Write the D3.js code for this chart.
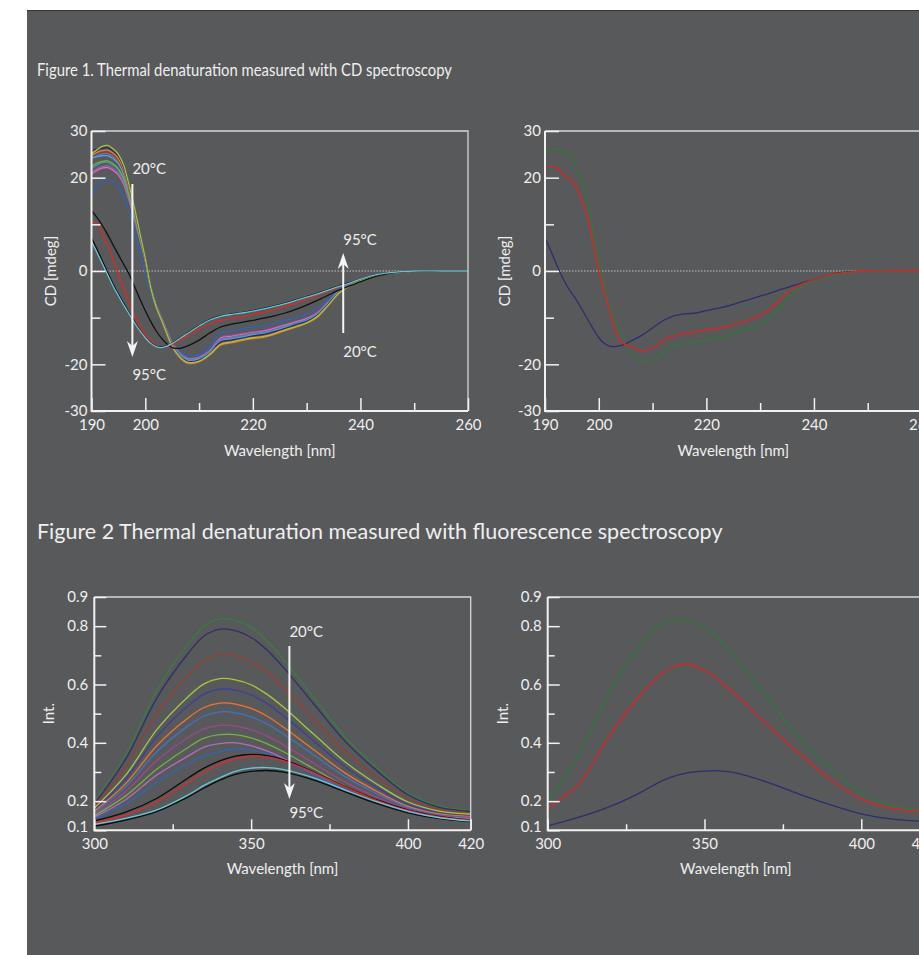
<!DOCTYPE html>
<html><head><meta charset="utf-8">
<script src="https://cdn.jsdelivr.net/npm/d3@7"></script>
<style>
html,body{margin:0;padding:0;background:#fff;}
svg{display:block;}
text{font-family:Lato,"Open Sans",sans-serif;}
</style></head><body>
<svg id="chart" width="919" height="955"></svg>
<script>
// ---------- Figure 1: CD spectra ----------
const cdWavelength = [190,191,192,193,194,195,196,197,198,199,200,201,202,203,204,205,206,207,208,210,212,214,216,218,220,222,224,226,228,230,232,234,236,238,240,243,246,250,255,260];
const cdYTicksMajor = [30,20,0,-20,-30];
const cdYTicksMinor = [10,-10];
const cdXTicksMajor = [190,200,220,240,260];
const cdXTicksMinor = [210,230,250];

const cdNative1 = [25.0,26.0,26.7,26.9,26.2,25.0,22.6,18.3,13.5,8.1,2.7,-3.5,-7.6,-10.4,-13.3,-16.1,-17.8,-19.0,-19.6,-19.3,-17.8,-15.7,-15.2,-14.7,-14.3,-14.0,-13.4,-12.6,-11.9,-11.1,-9.7,-7.3,-4.7,-3.2,-2.1,-1.0,-0.4,0,0,0];
const cdNative2 = [25.8,26.1,26.3,26.4,25.7,24.6,22.2,18.0,13.2,7.9,2.6,-3.5,-7.6,-10.3,-13.2,-15.9,-17.7,-18.8,-19.4,-19.1,-17.7,-15.2,-14.8,-14.4,-13.9,-13.6,-13.0,-12.3,-11.5,-10.8,-9.5,-7.1,-4.6,-3.1,-2.1,-0.9,-0.4,0,0,0];
const cdNative3 = [24.7,25.4,25.8,25.9,25.3,24.1,21.8,17.6,13.0,7.8,2.6,-3.6,-7.7,-10.5,-13.5,-16.2,-18.0,-19.2,-19.8,-19.5,-18.0,-15.9,-15.4,-14.9,-14.5,-14.2,-13.6,-12.8,-12.0,-11.2,-9.9,-7.4,-4.8,-3.2,-2.2,-1.0,-0.4,0,0,0];
const cdNative4 = [25.4,25.5,25.5,25.5,24.9,23.7,21.4,17.3,12.8,7.7,2.6,-3.5,-7.6,-10.3,-13.3,-16.0,-17.7,-18.9,-19.5,-19.2,-17.7,-15.5,-15.0,-14.6,-14.1,-13.8,-13.2,-12.5,-11.7,-11.0,-9.6,-7.2,-4.7,-3.2,-2.1,-1.0,-0.4,0,0,0];
const cdNative5 = [24.3,24.5,24.7,24.7,24.1,23.0,20.7,16.8,12.4,7.4,2.5,-3.5,-7.5,-10.2,-13.1,-15.7,-17.5,-18.6,-19.2,-18.9,-17.5,-15.0,-14.6,-14.2,-13.7,-13.4,-12.8,-12.1,-11.4,-10.7,-9.3,-7.0,-4.5,-3.1,-2.0,-0.9,-0.4,0,0,0];
const cdNative6 = [22.4,23.1,23.5,23.6,23.0,21.9,19.8,16.0,11.8,7.1,2.4,-3.5,-7.5,-10.2,-13.1,-15.8,-17.6,-18.7,-19.3,-19.0,-17.6,-15.1,-14.7,-14.3,-13.8,-13.5,-12.9,-12.2,-11.5,-10.7,-9.4,-7.1,-4.6,-3.1,-2.1,-0.9,-0.4,0,0,0];
const cdNative7 = [22.0,22.7,23.2,23.3,22.7,21.7,19.6,15.8,11.7,7.0,2.3,-3.4,-7.4,-10.1,-12.9,-15.6,-17.3,-18.4,-19.0,-18.7,-17.3,-14.8,-14.4,-14.0,-13.5,-13.2,-12.7,-12.0,-11.2,-10.5,-9.2,-6.9,-4.5,-3.0,-2.0,-0.9,-0.4,0,0,0];
const cdNative8 = [21.0,21.9,22.4,22.6,22.0,21.0,19.0,15.4,11.3,6.8,2.3,-3.4,-7.4,-10.0,-12.9,-15.5,-17.2,-18.3,-18.9,-18.6,-17.2,-14.6,-14.2,-13.8,-13.3,-13.1,-12.5,-11.8,-11.1,-10.4,-9.1,-6.8,-4.4,-3.0,-2.0,-0.9,-0.4,0,0,0];
const cdNative9 = [20.9,21.6,22.1,22.2,21.6,20.6,18.6,15.1,11.1,6.7,2.2,-3.4,-7.3,-10.0,-12.8,-15.4,-17.1,-18.2,-18.8,-18.5,-17.1,-14.4,-14.0,-13.6,-13.2,-12.9,-12.3,-11.6,-10.9,-10.2,-9.0,-6.7,-4.3,-2.9,-2.0,-0.9,-0.4,0,0,0];
const cdNative10 = [20.6,21.4,21.9,22.0,21.5,20.5,18.5,15.0,11.0,6.6,2.2,-3.4,-7.3,-9.9,-12.7,-15.3,-17.0,-18.1,-18.7,-18.4,-17.0,-14.2,-13.8,-13.4,-13.0,-12.7,-12.1,-11.5,-10.8,-10.1,-8.8,-6.6,-4.3,-2.9,-1.9,-0.9,-0.3,0,0,0];
const cdNative11 = [24.0,24.7,25.1,25.2,24.6,23.4,21.2,17.1,12.6,7.6,2.5,-3.4,-7.4,-10.1,-13.0,-15.7,-17.4,-18.5,-19.1,-18.8,-17.4,-14.9,-14.5,-14.1,-13.6,-13.3,-12.8,-12.0,-11.3,-10.6,-9.3,-7.0,-4.5,-3.0,-2.0,-0.9,-0.4,0,0,0];
const cdNative12 = [16.1,18.0,19.2,19.6,19.1,18.0,15.8,12.5,8.5,4.0,-0.5,-4.5,-8.0,-10.6,-13.0,-15.2,-16.7,-17.7,-18.2,-17.9,-16.4,-13.2,-12.8,-12.4,-12.0,-11.8,-11.3,-10.6,-10.0,-9.3,-8.0,-6.0,-3.9,-2.7,-1.8,-0.8,-0.3,0,0,0];
const cdDenat1 = [12.9,11.5,9.8,7.8,5.6,3.5,1.4,-0.7,-3.3,-6.0,-8.5,-10.8,-12.8,-14.4,-15.6,-16.4,-16.6,-16.4,-16.0,-14.8,-13.3,-12.0,-11.4,-11.0,-10.6,-10.1,-9.6,-9.0,-8.2,-7.3,-6.3,-5.2,-4.1,-3.2,-2.3,-1.1,-0.4,0,0,0];
const cdDenat2 = [10.4,10.2,8.0,5.5,2.6,-0.8,-3.8,-6.8,-9.5,-11.8,-13.6,-15.0,-15.9,-16.3,-16.2,-15.8,-15.2,-14.5,-13.8,-12.4,-11.3,-10.6,-10.2,-9.8,-9.3,-8.8,-8.3,-7.6,-6.9,-6.1,-5.2,-4.3,-3.4,-2.6,-1.8,-0.8,-0.3,0,0,0];
const cdDenat3 = [7.1,4.7,2.2,-0.3,-2.8,-5.0,-7.0,-9.0,-10.9,-12.6,-14.2,-15.4,-16.1,-16.3,-16.0,-15.4,-14.7,-13.9,-13.2,-11.7,-10.4,-9.6,-9.2,-8.9,-8.5,-8.0,-7.5,-6.9,-6.2,-5.5,-4.8,-4.0,-3.2,-2.5,-1.8,-0.8,-0.3,0,0,0];
const cdDenat4 = [6.3,4.0,1.6,-0.8,-3.2,-5.3,-7.3,-9.2,-11.1,-12.8,-14.3,-15.5,-16.2,-16.4,-16.1,-15.5,-14.8,-14.0,-13.3,-11.8,-10.5,-9.7,-9.3,-9.0,-8.6,-8.1,-7.6,-7.0,-6.3,-5.6,-4.9,-4.1,-3.3,-2.6,-1.8,-0.8,-0.3,0,0,0];

const cdLeftSeries = [cdNative12,cdNative10,cdNative9,cdNative8,cdNative7,cdNative6,cdNative11,cdNative5,cdNative4,cdNative3,cdNative2,cdNative1,cdDenat1,cdDenat2,cdDenat3,cdDenat4];
const cdLeftColors = ["#2f63b3","#a8428f","#c77ab8","#8466a6","#3f9ab0","#72b043","#4f7fc0","#5aa0d8","#a03b2c","#f07a2e","#2c2d66","#a2c83a","#111111","#e32626","#0d0d0d","#63c7d6"];

const cdRight20 = [25.3,25.8,26.1,25.9,25.2,24.1,22.0,19.0,14.5,8.5,2.5,-3.5,-7.5,-10.3,-13.2,-15.8,-17.5,-18.7,-19.3,-19.1,-17.6,-16.1,-15.6,-15.2,-14.8,-14.4,-13.8,-13.0,-12.2,-11.5,-10.0,-7.5,-4.8,-3.3,-2.2,-1.0,-0.4,0,0,-0.1];
const cdRightMid = [22.3,22.3,22.2,21.1,20.2,19.4,17.6,14.8,11.0,5.6,0.0,-4.5,-8.5,-12.3,-15.0,-15.8,-16.3,-16.7,-17.1,-16.5,-14.8,-13.9,-13.4,-13.0,-12.6,-12.3,-11.8,-11.1,-10.5,-9.4,-8.0,-5.8,-3.8,-2.7,-1.8,-0.8,-0.3,0,0,0];
const cdRight95 = [7.0,4.5,1.8,-0.8,-3.0,-4.8,-6.5,-8.5,-10.5,-12.5,-14.3,-15.5,-16.1,-16.2,-16.0,-15.6,-15.0,-14.4,-13.8,-12.2,-10.6,-9.6,-9.2,-9.0,-8.5,-8.0,-7.5,-6.8,-6.1,-5.4,-4.7,-3.9,-3.2,-2.5,-1.8,-0.8,-0.2,0,0,0];
const cdRightSeries = [cdRight95,cdRight20,cdRightMid];
const cdRightColors = ["#2b2f6e","#2f7a3a","#e52222"];

// ---------- Figure 2: fluorescence spectra ----------
const flWavelength = [300,310,320,330,335,340,345,350,355,360,370,380,390,400,410,420];
const flYTicksMajor = [0.9,0.8,0.6,0.4,0.2,0.1];
const flYTicksMinor = [0.7,0.5,0.3];
const flXTicksMajor = [300,350,400,420];
const flXTicksMinor = [325,375];

const fl1 = [0.20,0.36,0.58,0.74,0.80,0.825,0.82,0.795,0.75,0.69,0.555,0.42,0.315,0.228,0.183,0.168];
const fl2 = [0.19,0.344,0.555,0.708,0.766,0.79,0.785,0.761,0.719,0.662,0.533,0.405,0.305,0.222,0.179,0.165];
const fl3 = [0.185,0.318,0.500,0.633,0.682,0.703,0.699,0.678,0.641,0.592,0.480,0.369,0.282,0.209,0.172,0.160];
const fl4 = [0.175,0.289,0.446,0.559,0.602,0.62,0.616,0.599,0.567,0.525,0.429,0.334,0.259,0.197,0.166,0.155];
const fl5 = [0.17,0.276,0.422,0.528,0.567,0.584,0.581,0.564,0.535,0.495,0.406,0.317,0.247,0.189,0.16,0.15];
const fl6 = [0.165,0.26,0.391,0.486,0.521,0.536,0.533,0.518,0.492,0.456,0.376,0.296,0.234,0.182,0.156,0.147];
const fl7 = [0.16,0.249,0.37,0.459,0.492,0.506,0.503,0.489,0.465,0.432,0.358,0.284,0.226,0.178,0.153,0.145];
const fl8 = [0.155,0.233,0.34,0.419,0.448,0.46,0.457,0.445,0.424,0.395,0.33,0.265,0.214,0.172,0.15,0.143];
const fl9 = [0.15,0.218,0.31,0.385,0.416,0.428,0.428,0.417,0.397,0.371,0.311,0.251,0.205,0.166,0.147,0.14];
const fl10 = [0.145,0.205,0.29,0.355,0.385,0.397,0.40,0.39,0.372,0.348,0.293,0.239,0.197,0.162,0.144,0.138];
const fl11 = [0.14,0.19,0.265,0.33,0.355,0.37,0.378,0.375,0.362,0.342,0.292,0.24,0.197,0.163,0.145,0.137];
const fl12 = [0.132,0.162,0.21,0.28,0.313,0.338,0.354,0.36,0.356,0.343,0.3,0.25,0.205,0.17,0.148,0.135];
const fl13 = [0.125,0.152,0.198,0.265,0.3,0.327,0.346,0.355,0.352,0.34,0.298,0.248,0.203,0.168,0.146,0.134];
const fl14 = [0.12,0.141,0.17,0.222,0.254,0.28,0.302,0.313,0.315,0.309,0.28,0.238,0.198,0.165,0.143,0.132];
const fl15 = [0.114,0.135,0.165,0.215,0.245,0.272,0.292,0.302,0.305,0.3,0.272,0.232,0.192,0.16,0.14,0.13];
const flLeftSeries = [fl1,fl2,fl3,fl4,fl5,fl6,fl7,fl8,fl9,fl10,fl11,fl12,fl13,fl15,fl14];
const flLeftColors = ["#3a7c42","#2e2f6a","#9c3d30","#a6c83c","#3d3e9e","#f07430","#3f74c2","#a0468c","#74b043","#b36bb9","#2f66ba","#0b0b0b","#e8262b","#0b0b0b","#66c9d9"];

const flRight20 = [0.20,0.36,0.58,0.74,0.80,0.825,0.82,0.795,0.75,0.69,0.555,0.42,0.315,0.228,0.183,0.168];
const flRightMid = [0.175,0.26,0.43,0.57,0.625,0.66,0.67,0.648,0.61,0.565,0.462,0.365,0.276,0.207,0.175,0.162];
const flRight95 = [0.115,0.145,0.182,0.232,0.262,0.285,0.298,0.303,0.304,0.297,0.265,0.225,0.188,0.156,0.138,0.131];
const flRightSeries = [flRight95,flRight20,flRightMid];
const flRightColors = ["#2b2f6e","#2f7a3a","#e52222"];

// ---------- drawing ----------
const svg = d3.select("#chart");
const TEXT = "#efefef";
const AXIS = "#f2f2f2";
const hyphenInt = d => (d < 0 ? "-" + Math.abs(d) : String(d));
const oneDec = d => d.toFixed(1);

svg.append("rect").attr("x",27).attr("y",10).attr("width",900).attr("height",950).attr("fill","#58595b");
svg.append("line").attr("x1",27).attr("x2",919).attr("y1",10.5).attr("y2",10.5).attr("stroke","#333").attr("stroke-width",1);

svg.append("text").attr("x",37).attr("y",76).attr("fill",TEXT).attr("font-size",18)
  .attr("textLength",415).attr("lengthAdjust","spacingAndGlyphs")
  .text("Figure 1. Thermal denaturation measured with CD spectroscopy");
svg.append("text").attr("x",37).attr("y",539).attr("fill",TEXT).attr("font-size",21.5)
  .text("Figure 2 Thermal denaturation measured with fluorescence spectroscopy");

let clipId = 0;
function drawChart(cfg){
  const x = d3.scaleLinear().domain(cfg.xDomain).range(cfg.xRange);
  const y = d3.scaleLinear().domain(cfg.yDomain).range(cfg.yRange);
  const g = svg.append("g");
  const [x0,x1] = cfg.xRange, [y0,y1] = cfg.yRange;
  const id = "clip"+(clipId++);
  g.append("clipPath").attr("id",id).append("rect").attr("x",x0).attr("y",y1).attr("width",x1-x0).attr("height",y0-y1);

  if (cfg.zero){
    g.append("line").attr("x1",x0).attr("x2",x1).attr("y1",y(0)).attr("y2",y(0))
      .attr("stroke","#c4c4c4").attr("stroke-width",1).attr("stroke-dasharray","1.5,1.5");
  }
  const line = d3.line().x((d,i)=>x(cfg.xs[i])).y(d=>y(d)).curve(d3.curveCatmullRom.alpha(0.5));
  const cg = g.append("g").attr("clip-path",`url(#${id})`);
  cfg.series.forEach((s,i)=>{
    cg.append("path").attr("d",line(s)).attr("fill","none").attr("stroke",cfg.colors[i]).attr("stroke-width",1.3);
  });
  g.append("path").attr("d",`M${x0},${y1}H${x1}V${y0}`).attr("fill","none").attr("stroke","#d6d6d6").attr("stroke-width",1.3);

  const styleAxis = (a)=>{
    a.select(".domain").remove();
    a.selectAll(".tick line").attr("stroke",AXIS).attr("stroke-width",1.5);
    a.selectAll(".tick text").attr("fill",TEXT).attr("font-size",15).attr("font-family","Lato, sans-serif");
  };
  const yMaj = g.append("g").attr("transform",`translate(${x0},0)`)
    .call(d3.axisLeft(y).tickValues(cfg.yMajor).tickSize(-cfg.yMajLen).tickPadding(cfg.yPad).tickFormat(cfg.yFmt));
  styleAxis(yMaj);
  const yMin = g.append("g").attr("transform",`translate(${x0},0)`)
    .call(d3.axisLeft(y).tickValues(cfg.yMinor).tickSize(-cfg.yMinLen).tickFormat(""));
  styleAxis(yMin);
  const xMaj = g.append("g").attr("transform",`translate(0,${y0})`)
    .call(d3.axisBottom(x).tickValues(cfg.xMajor).tickSize(-cfg.xMajLen).tickPadding(cfg.xPad).tickFormat(hyphenInt));
  styleAxis(xMaj);
  const xMin = g.append("g").attr("transform",`translate(0,${y0})`)
    .call(d3.axisBottom(x).tickValues(cfg.xMinor).tickSize(-cfg.xMinLen).tickFormat(""));
  styleAxis(xMin);
  if (cfg.lowLabelShift){
    yMaj.selectAll(".tick").filter(d=>d===cfg.yDomain[0]).select("text").attr("dy","0.08em");
  }
  g.append("path").attr("d",`M${x0},${y1}V${y0}H${x1}`).attr("fill","none").attr("stroke",AXIS).attr("stroke-width",2);

  g.append("text").attr("x",(x0+x1)/2).attr("y",cfg.xTitleY).attr("text-anchor","middle")
    .attr("fill",TEXT).attr("font-size",15).text("Wavelength [nm]");
  g.append("text").attr("transform",`translate(${cfg.yTitleX},${(y0+y1)/2}) rotate(-90)`).attr("text-anchor","middle")
    .attr("fill",TEXT).attr("font-size",15).text(cfg.yTitle);
  return {x,y,g};
}

function arrow(g, x, yStart, yTip){
  const dir = yTip > yStart ? 1 : -1;
  g.append("line").attr("x1",x).attr("x2",x).attr("y1",yStart).attr("y2",yTip - dir*8)
    .attr("stroke","#f5f5f5").attr("stroke-width",2);
  g.append("path").attr("d",`M${x},${yTip}L${x-5.5},${yTip-dir*16}L${x},${yTip-dir*11}L${x+5.5},${yTip-dir*16}Z`).attr("fill","#f5f5f5");
}
function label(g, x, y, t){
  g.append("text").attr("x",x).attr("y",y).attr("fill",TEXT).attr("font-size",15).text(t);
}

const cdCommon = {xs:cdWavelength, xDomain:[190,260], yDomain:[-30,30], yRange:[411,131], zero:true,
  yMajor:cdYTicksMajor, yMinor:cdYTicksMinor, xMajor:cdXTicksMajor, xMinor:cdXTicksMinor,
  yMajLen:14, yMinLen:9, xMajLen:13, xMinLen:8, yPad:4, xPad:8, yFmt:hyphenInt, xTitleY:456, yTitle:"CD [mdeg]"};

const A = drawChart(Object.assign({}, cdCommon, {xRange:[91.5,468], series:cdLeftSeries, colors:cdLeftColors, yTitleX:56}));
arrow(A.g, A.x(197.6), 184, 357);
label(A.g, A.x(197.6), 174, "20°C");
label(A.g, A.x(197.6), 380, "95°C");
arrow(A.g, A.x(236.8), 333, 253);
label(A.g, A.x(236.8), 245, "95°C");
label(A.g, A.x(236.8), 357, "20°C");

const B = drawChart(Object.assign({}, cdCommon, {xRange:[545,921.5], series:cdRightSeries, colors:cdRightColors, yTitleX:510}));

const flCommon = {xs:flWavelength, xDomain:[300,420], yDomain:[0.1,0.9], yRange:[830.3,597], zero:false,
  yMajor:flYTicksMajor, yMinor:flYTicksMinor, xMajor:flXTicksMajor, xMinor:flXTicksMinor,
  yMajLen:12, yMinLen:7, xMajLen:11, xMinLen:6, yPad:6, xPad:8, yFmt:oneDec, xTitleY:874, yTitle:"Int.", lowLabelShift:true};

const C = drawChart(Object.assign({}, flCommon, {xRange:[94.3,470.7], series:flLeftSeries, colors:flLeftColors, yTitleX:54}));
arrow(C.g, C.x(362.2), 646, 799);
label(C.g, C.x(362.2), 637, "20°C");
label(C.g, C.x(362.2), 818, "95°C");

const D = drawChart(Object.assign({}, flCommon, {xRange:[547.7,924], series:flRightSeries, colors:flRightColors, yTitleX:508}));
</script></body></html>
